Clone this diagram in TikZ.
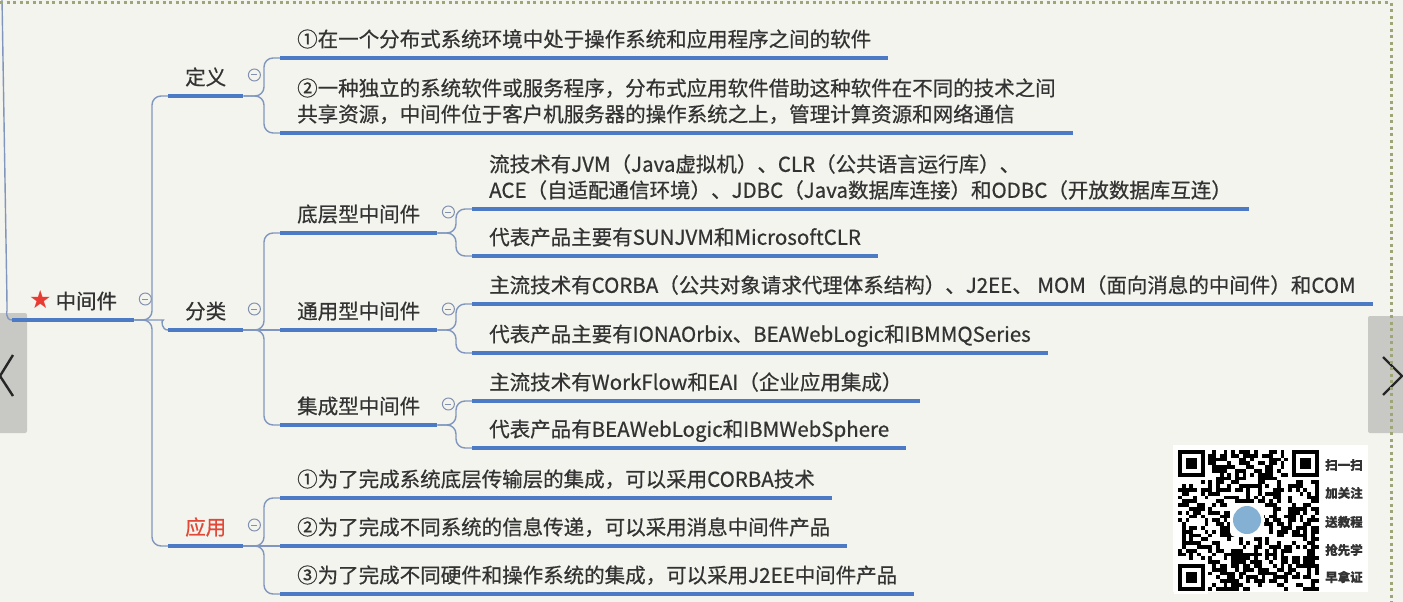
\documentclass[tikz,border=0pt]{standalone}
\usepackage{fontspec}
\setmainfont{Noto Sans CJK SC}[RawFeature={embolden=0.6}]
\newfontfamily\symfont{DejaVu Sans}
\usetikzlibrary{calc}

\definecolor{paper}{RGB}{244,244,238}
\definecolor{ink}{RGB}{51,51,51}
\definecolor{ulblue}{RGB}{76,122,196}
\definecolor{connblue}{RGB}{128,150,190}
\definecolor{foldgray}{RGB}{130,145,175}
\definecolor{hotred}{RGB}{226,72,56}
\definecolor{starred}{RGB}{232,60,50}
\definecolor{dotolive}{RGB}{160,165,120}
\definecolor{panelgray}{RGB}{200,200,196}
\definecolor{logoblue}{RGB}{132,176,212}

\newcommand\mapfont{\fontsize{20.5}{26}\selectfont}
\newcommand\twolines[2]{\begin{tabular}[b]{@{}l@{}}#1\\#2\end{tabular}}

\tikzset{
  topic/.style={anchor=south west, inner xsep=17pt, inner ysep=7pt,
    text height=14pt, text depth=4pt, font=\mapfont, text=ink},
  uline/.style={ulblue, line width=3.5pt},
  conn/.style={connblue, line width=1.4pt, rounded corners=9pt},
  fold/.style={circle, draw=foldgray, line width=1pt, fill=paper,
    minimum size=12pt, inner sep=0pt,
    path picture={\draw[foldgray, line width=1pt]
      ([xshift=-3pt]path picture bounding box.center) --
      ([xshift=3pt]path picture bounding box.center);}},
  qrtext/.style={font=\fontsize{12.5}{14}\selectfont\bfseries, text=ink, inner sep=0pt}
}

\begin{document}
\begin{tikzpicture}[x=1pt,y=1pt]
\useasboundingbox (0,0) rectangle (1403,-602);
\fill[paper] (0,0) rectangle (1403,-602);

% side buttons
\fill[panelgray, rounded corners=2pt] (-5,-313) rectangle (27,-433);
\draw[black!85, line width=2.4pt] (13,-355) -- (0,-376) -- (13,-396);
\fill[panelgray, rounded corners=2pt] (1368,-316) rectangle (1410,-433);
\draw[black!85, line width=2.4pt] (1383,-357) -- (1402,-376) -- (1383,-395);

% root and first level
\node[topic] (root) at (12,-320) {{\symfont\fontsize{25}{25}\selectfont\color{starred}★}\hspace{4pt}中间件};
\node[topic] (def) at (168,-96) {定义};
\node[topic] (cls) at (168,-330) {分类};
\node[topic, text=hotred] (app) at (168,-546) {应用};

% definition
\node[topic] (def1) at (280,-58) {①在一个分布式系统环境中处于操作系统和应用程序之间的软件};
\node[topic] (def2) at (280,-133) {\twolines{②一种独立的系统软件或服务程序，分布式应用软件借助这种软件在不同的技术之间}{共享资源，中间件位于客户机服务器的操作系统之上，管理计算资源和网络通信}};

% classes
\node[topic] (low) at (280,-233) {底层型中间件};
\node[topic] (gen) at (280,-330) {通用型中间件};
\node[topic] (integ) at (280,-425) {集成型中间件};

\node[topic] (low1) at (472,-209) {\twolines{流技术有JVM（Java虚拟机）、CLR（公共语言运行库）、}{ACE（自适配通信环境）、JDBC（Java数据库连接）和ODBC（开放数据库互连）}};
\node[topic] (low2) at (472,-256) {代表产品主要有SUNJVM和MicrosoftCLR};
\node[topic] (gen1) at (472,-304) {主流技术有CORBA（公共对象请求代理体系结构）、J2EE、 MOM（面向消息的中间件）和COM};
\node[topic] (gen2) at (472,-353) {代表产品主要有IONAOrbix、BEAWebLogic和IBMMQSeries};
\node[topic] (integ1) at (472,-401) {主流技术有WorkFlow和EAI（企业应用集成）};
\node[topic] (integ2) at (472,-448) {代表产品有BEAWebLogic和IBMWebSphere};

% application
\node[topic] (app1) at (280,-498) {①为了完成系统底层传输层的集成，可以采用CORBA技术};
\node[topic] (app2) at (280,-546) {②为了完成不同系统的信息传递，可以采用消息中间件产品};
\node[topic] (app3) at (280,-594) {③为了完成不同硬件和操作系统的集成，可以采用J2EE中间件产品};

% connectors
\coordinate (offscreen) at (2,2);
\draw[conn] (offscreen) -- (7,-302) to[out=-90,in=180] (root.south west);
\draw[conn] (root.south east) -| ([xshift=-16pt]def.south west) -- (def.south west);
\draw[conn] (root.south east) -- ++(20,0) to[out=0,in=180] (cls.south west);
\draw[conn] (root.south east) -| ([xshift=-16pt]app.south west) -- (app.south west);
\foreach \p/\c in {def/def1,def/def2,cls/low,cls/integ,app/app1,app/app3,
                   low/low1,low/low2,gen/gen1,gen/gen2,integ/integ1,integ/integ2}
  \draw[conn] (\p.south east) -| ([xshift=-16pt]\c.south west) -- (\c.south west);
\draw[conn] (cls.south east) -- (gen.south west);
\draw[conn] (app.south east) -- (app2.south west);

% underlines and fold marks
\foreach \n in {root,def,cls,app,def1,def2,low,gen,integ,low1,low2,
                gen1,gen2,integ1,integ2,app1,app2,app3}
  \draw[uline] (\n.south west) -- (\n.south east);
\foreach \n in {root,def,cls,app,low,gen,integ}
  \node[fold] (\n-fold) at ([shift={(11pt,21pt)}]\n.south east) {};

% qr card
\fill[white] (1173,-445) rectangle (1368,-592);
\pgfmathsetseed{1403}
\foreach \i in {0,...,36}{
  \foreach \j in {0,...,36}{
    \pgfmathrandominteger{\qrbit}{0}{1}
    \ifnum\qrbit=1
      \fill[black] (1178+3.8*\i,-450-3.8*\j) rectangle ++(3.8,-3.8);
    \fi
  }
}
\foreach \fx/\fy in {1178/450,1292/450,1178/564}{
  \fill[white] (\fx-3.8,-\fy+3.8) rectangle ++(34.2,-34.2);
  \fill[black] (\fx,-\fy) rectangle ++(26.6,-26.6);
  \fill[white] (\fx+3.8,-\fy-3.8) rectangle ++(19,-19);
  \fill[black] (\fx+7.6,-\fy-7.6) rectangle ++(11.4,-11.4);
}
\fill[white, rounded corners=5pt] (1230,-503) rectangle (1264,-537);
\fill[logoblue] (1247,-520) circle (14);
\node[qrtext] (scan) at (1344,-465) {扫一扫};
\node[qrtext] (follow) at (1344,-493) {加关注};
\node[qrtext] (gift) at (1344,-522) {送教程};
\node[qrtext] (learn) at (1344,-550) {抢先学};
\node[qrtext] (cert) at (1344,-577) {早拿证};

% dotted frame
\draw[dotolive, line width=3pt, dash pattern=on 3pt off 3.5pt] (0,-3) -- (1391,-3) -- (1391,-602);
\end{tikzpicture}
\end{document}
